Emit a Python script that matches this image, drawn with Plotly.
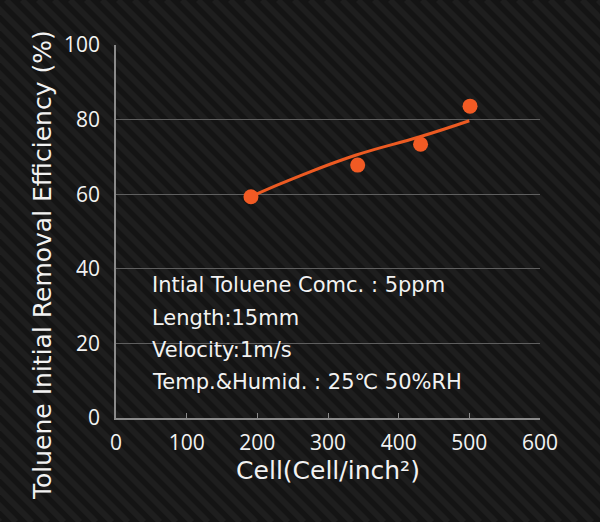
import plotly.graph_objects as go

# measured points
cell_density = [191, 342, 431, 501]
efficiency = [59.3, 67.8, 73.4, 83.6]

# fitted trend curve
fit_x = [192, 255, 340, 430, 500]
fit_y = [59.5, 64.5, 70.5, 75.4, 79.7]

x_ticks = [0, 100, 200, 300, 400, 500, 600]
y_ticks = [0, 20, 40, 60, 80, 100]

conditions = [
    "Intial Toluene Comc. : 5ppm",
    "Length:15mm",
    "Velocity:1m/s",
    "Temp.&Humid. : 25℃ 50%RH",
]
# where each condition line sits (data units)
cond_x = 48
cond_y = [35.7, 26.8, 18.2, 9.7]

orange = "#f15a24"
white = "#f2f2f2"

W, H = 600, 522
ML, MR, MT, MB = 116, 60, 45, 104
pw, ph = W - ML - MR, H - MT - MB

fig = go.Figure()

# carbon-fibre-ish diagonal texture behind everything
def px2paper(px, py):
    return (px - ML) / pw, (H - MB - py) / ph

stripes = []
for start in range(-H, W, 16):
    x0, y0 = px2paper(start, 0)
    x1, y1 = px2paper(start + H, H)
    stripes.append(dict(type="line", xref="paper", yref="paper", layer="below",
                        x0=x0, y0=y0, x1=x1, y1=y1,
                        line=dict(color="rgba(255,255,255,0.045)", width=6)))

fig.add_trace(go.Scatter(x=fit_x, y=fit_y, mode="lines",
                         line=dict(color="#ec5a22", width=3, shape="spline", smoothing=1.3),
                         hoverinfo="skip"))
fig.add_trace(go.Scatter(x=cell_density, y=efficiency, mode="markers",
                         marker=dict(color=orange, size=15)))

for txt, yy in zip(conditions, cond_y):
    fig.add_annotation(x=cond_x, y=yy, xanchor="left", yanchor="middle",
                       showarrow=False, text=txt,
                       font=dict(family="DejaVu Sans", size=21, color=white))

# y title as annotation so it can sit a bit lower like the original
tx, ty = px2paper(42, 265)
fig.add_annotation(x=tx, y=ty, xref="paper", yref="paper", showarrow=False,
                   textangle=-90, xanchor="center", yanchor="middle",
                   text="Toluene Initial Removal Efficiency (%)",
                   font=dict(family="DejaVu Sans", size=25, color=white))

fig.update_xaxes(range=[0, 600], tickvals=x_ticks, showgrid=False,
                 showline=True, linecolor="#8a8a8a", linewidth=1.5,
                 ticks="inside", ticklen=5, tickcolor="#8a8a8a",
                 ticklabelstandoff=5,
                 tickfont=dict(family="Open Sans", size=21, color=white),
                 title=dict(text="Cell(Cell/inch²)", standoff=7,
                            font=dict(family="DejaVu Sans", size=25, color=white)))
fig.update_yaxes(range=[0, 100], tickvals=y_ticks, showgrid=True,
                 gridcolor="#5e5e5e", gridwidth=1, zeroline=False,
                 showline=True, linecolor="#8a8a8a", linewidth=1.5,
                 ticks="", ticklabelstandoff=10,
                 tickfont=dict(family="Open Sans", size=21, color=white))

fig.update_layout(width=W, height=H, showlegend=False, shapes=stripes,
                  margin=dict(l=ML, r=MR, t=MT, b=MB),
                  paper_bgcolor="#141414", plot_bgcolor="rgba(0,0,0,0)")

fig.write_html("out.html", config={"displayModeBar": False},
               post_script="document.body.style.margin='0';")
